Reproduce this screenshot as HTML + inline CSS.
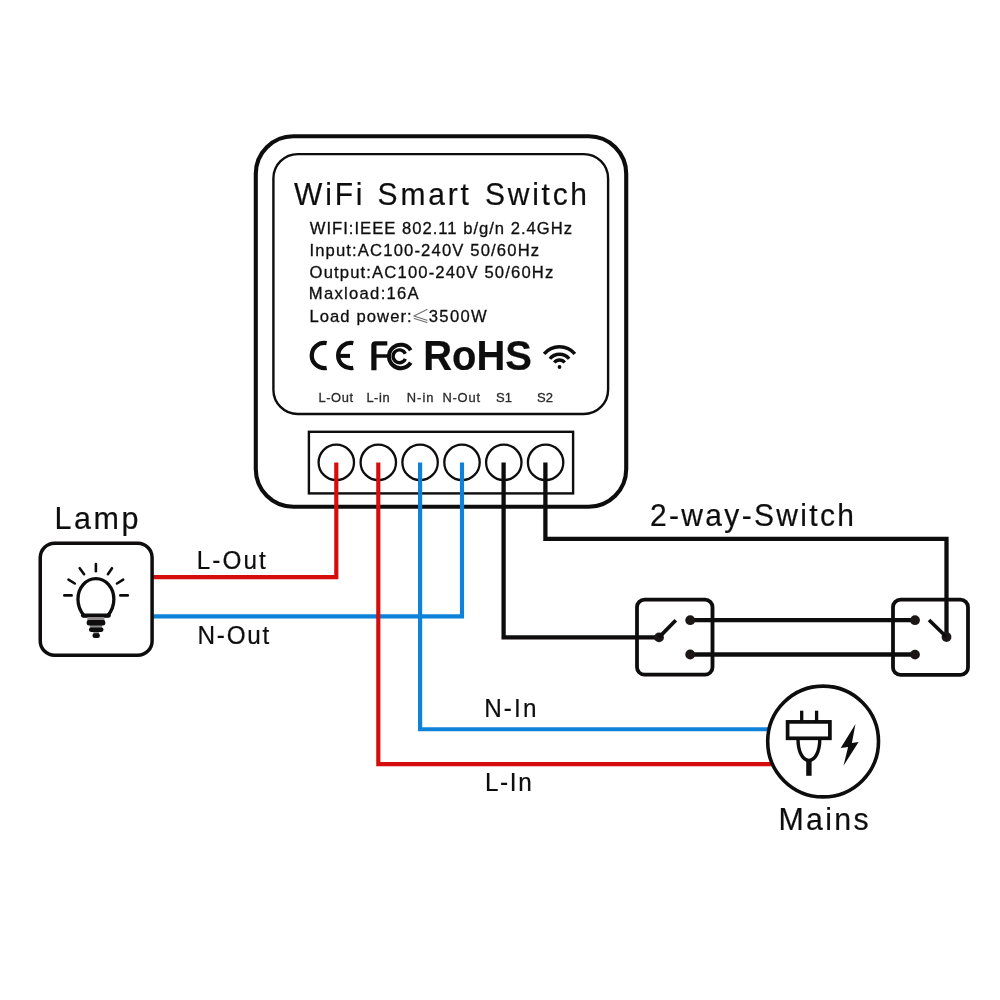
<!DOCTYPE html>
<html>
<head>
<meta charset="utf-8">
<title>WiFi Smart Switch wiring diagram</title>
<style>
html,body{margin:0;padding:0;background:#fff;}
body{width:1000px;height:1000px;overflow:hidden;font-family:"Liberation Sans",sans-serif;}
svg{display:block;}
text{font-family:"Liberation Sans",sans-serif;}
</style>
</head>
<body>
<svg width="1000" height="1000" viewBox="0 0 1000 1000">
<defs><filter id="soft" x="0" y="0" width="1000" height="1000" filterUnits="userSpaceOnUse"><feGaussianBlur stdDeviation="0.45"/></filter></defs>
<rect width="1000" height="1000" fill="#fff"/>
<g filter="url(#soft)">

<!-- module body -->
<rect x="255.8" y="136.2" width="370.4" height="370.6" rx="37.5" ry="37.5" fill="#fff" stroke="#0e0d0d" stroke-width="4.1"/>
<rect x="273.4" y="154.1" width="334.7" height="259.9" rx="24.3" ry="24.3" fill="#fff" stroke="#0e0d0d" stroke-width="2.4"/>

<!-- title -->
<text transform="translate(294.0 205.0) scale(1.0 1.04)" font-size="30" fill="#111" stroke="#111" stroke-width="0.2" textLength="68.47" lengthAdjust="spacing">WiFi</text>
<text transform="translate(377.6 205.0) scale(1.0 1.04)" font-size="30" fill="#111" stroke="#111" stroke-width="0.2" textLength="91.3" lengthAdjust="spacing">Smart</text>
<text transform="translate(485.1 205.0) scale(1.0 1.04)" font-size="30" fill="#111" stroke="#111" stroke-width="0.2" textLength="101.94" lengthAdjust="spacing">Switch</text>
<!-- specs -->
<text transform="translate(309.8 234.0) scale(1.04 1.04)" font-size="16" fill="#111" stroke="#111" stroke-width="0.3" textLength="252.16" lengthAdjust="spacing">WIFI:IEEE 802.11 b/g/n 2.4GHz</text>
<text transform="translate(309.4 255.8) scale(1.04 1.04)" font-size="16" fill="#111" stroke="#111" stroke-width="0.3" textLength="220.87" lengthAdjust="spacing">Input:AC100-240V 50/60Hz</text>
<text transform="translate(309.6 277.6) scale(1.04 1.04)" font-size="16" fill="#111" stroke="#111" stroke-width="0.3" textLength="234.29" lengthAdjust="spacing">Output:AC100-240V 50/60Hz</text>
<text transform="translate(308.8 299.4) scale(1.04 1.04)" font-size="16" fill="#111" stroke="#111" stroke-width="0.3" textLength="105.69" lengthAdjust="spacing">Maxload:16A</text>
<text transform="translate(309.4 321.6) scale(1.04 1.04)" font-size="16" fill="#111" stroke="#111" stroke-width="0.3" textLength="98.4" lengthAdjust="spacing">Load power:</text>
<text transform="translate(428.8 321.6) scale(1.04 1.04)" font-size="16" fill="#111" stroke="#111" stroke-width="0.3" textLength="55.72" lengthAdjust="spacing">3500W</text>

<!-- slanted less-or-equal -->
<g fill="none" stroke="#6e6e6e" stroke-width="1.1" stroke-linecap="round" stroke-linejoin="round">
<path d="M427 309.6 L413.8 316 L427 320.2"/>
<path d="M414.2 318.6 L427 322.6"/>
</g>
<!-- CE -->
<g fill="none" stroke="#0e0d0d" stroke-width="4.3">
<path d="M326.65 343.17 A12.55 12.55 0 1 0 326.65 367.83"/>
<path d="M353.3 343.22 A12.55 12.55 0 1 0 353.3 367.78"/>
<path d="M340 355.9 H350" stroke-width="4"/>
</g>
<!-- FC -->
<path d="M371.3 370.2 V345.6 Q371.3 341.3 375.6 341.3 H387.3 V345.4 H376.5 V354.2 H389.6 V357.8 H376.5 V370.2 Z" fill="#0e0d0d"/>
<g fill="none" stroke="#0e0d0d">
<path d="M410.71 350.22 A11.75 11.75 0 1 0 410.71 362.68" stroke-width="4"/>
<path d="M405.35 353.7 A6.4 6.4 0 1 0 405.35 358.9" stroke-width="3.4"/>
</g>
<text transform="translate(423.3 370.0) scale(0.998 1.04)" font-size="40" font-weight="bold" fill="#111" stroke="#111" stroke-width="0.2">RoHS</text>
<!-- wifi icon -->
<g fill="none" stroke="#0e0d0d" stroke-width="3.4">
<path d="M544.1 353.93 A20.1 20.1 0 0 1 574.9 353.93"/>
<path d="M549.85 358.75 A12.6 12.6 0 0 1 569.15 358.75"/>
<path d="M554.29 362.48 A6.8 6.8 0 0 1 564.71 362.48"/>
</g>
<circle cx="559.5" cy="367" r="1.9" fill="#0e0d0d"/>

<!-- terminal labels -->
<text transform="translate(318.4 402.0) scale(1.04 1.04)" font-size="12.4" fill="#2a2a2a" stroke="#2a2a2a" stroke-width="0.3" textLength="33.27" lengthAdjust="spacing">L-Out</text>
<text transform="translate(366.4 402.0) scale(1.04 1.04)" font-size="12.4" fill="#2a2a2a" stroke="#2a2a2a" stroke-width="0.3" textLength="22.28" lengthAdjust="spacing">L-in</text>
<text transform="translate(406.8 402.0) scale(1.04 1.04)" font-size="12.4" fill="#2a2a2a" stroke="#2a2a2a" stroke-width="0.3" textLength="25.64" lengthAdjust="spacing">N-in</text>
<text transform="translate(442.4 402.0) scale(1.04 1.04)" font-size="12.4" fill="#2a2a2a" stroke="#2a2a2a" stroke-width="0.3" textLength="36.15" lengthAdjust="spacing">N-Out</text>
<text transform="translate(496.1 402.0) scale(1.05 1.04)" font-size="12.4" fill="#2a2a2a" stroke="#2a2a2a" stroke-width="0.3">S1</text>
<text transform="translate(537.0 402.0) scale(1.05 1.04)" font-size="12.4" fill="#2a2a2a" stroke="#2a2a2a" stroke-width="0.3">S2</text>

<!-- terminal block -->
<rect x="308.9" y="431.8" width="264.2" height="61.6" fill="#fff" stroke="#0e0d0d" stroke-width="2.4"/>
<g fill="#fff" stroke="#0e0d0d" stroke-width="2.3">
<circle cx="336.3" cy="462.4" r="17.7"/>
<circle cx="378.3" cy="462.4" r="17.7"/>
<circle cx="420.1" cy="462.4" r="17.7"/>
<circle cx="462" cy="462.4" r="17.7"/>
<circle cx="503.8" cy="462.4" r="17.7"/>
<circle cx="545.6" cy="462.4" r="17.7"/>
</g>


<!-- wires -->
<g fill="none" stroke-width="4.3" stroke-linejoin="miter">
<path d="M462 462.6 V616.3 H152" stroke="#0a82d8" stroke-width="4.15"/>
<path d="M420.1 462.6 V729.2 H776" stroke="#0a82d8" stroke-width="4.15"/>
<path d="M336.3 462.6 V577.1 H152" stroke="#d50b0c" stroke-width="4.15"/>
<path d="M378.3 462.6 V764.1 H778" stroke="#d50b0c" stroke-width="4.15"/>
<path d="M503.6 462.6 V637.4 H659" stroke="#0e0d0d"/>
<path d="M545.4 462.6 V538.9 H946.5 V637" stroke="#0e0d0d"/>
<path d="M690.2 620.2 H915" stroke="#0e0d0d"/>
<path d="M690.2 654.5 H915" stroke="#0e0d0d"/>
</g>


<!-- lamp -->
<text transform="translate(54.6 529.1) scale(1.0 1.04)" font-size="30.5" fill="#111" stroke="#111" stroke-width="0.2" textLength="83.83" lengthAdjust="spacing">Lamp</text>
<rect x="40.25" y="543.25" width="111.85" height="111.95" rx="14.3" ry="14.3" fill="#fff" stroke="#0e0d0d" stroke-width="3.5"/>
<g fill="none" stroke="#0e0d0d" stroke-width="2.6" stroke-linecap="round">
<path d="M95.9 564.1 V571.3"/>
<path d="M79.7 568.2 L84.1 574.2"/>
<path d="M112 568.2 L107.9 574.2"/>
<path d="M68.5 579.7 L74.8 583.5"/>
<path d="M123.2 579.7 L117 583.5"/>
<path d="M64.3 595.4 H71.6"/>
<path d="M120.3 595.4 H127.8"/>
</g>
<path d="M84 615.6 C79.8 610.6 77.95 605.5 77.95 599.2 C77.95 587.8 85.96 578.6 95.9 578.6 C105.84 578.6 113.85 587.8 113.85 599.2 C113.85 605.5 112 610.6 107.8 615.6 Z" fill="#fff" stroke="#0e0d0d" stroke-width="3.3" stroke-linejoin="round"/>
<path d="M83 615.6 H108.8" stroke="#0e0d0d" stroke-width="4.1" stroke-linecap="round"/>
<g fill="#8d8a89">
<rect x="87.4" y="617" width="17" height="4"/>
<rect x="89.8" y="625" width="12.4" height="3"/>
<rect x="93.4" y="631.5" width="5.6" height="2.5"/>
</g>
<g fill="#0e0d0d">
<rect x="86.7" y="619.9" width="18.6" height="5.5" rx="2.2"/>
<rect x="88.9" y="627.5" width="14.6" height="4.4" rx="2.1"/>
<rect x="92.5" y="633.3" width="7.4" height="4.6" rx="2.2"/>
</g>
<text transform="translate(196.7 569.0) scale(1.0 1.04)" font-size="24.3" fill="#111" stroke="#111" stroke-width="0.2" textLength="69.15" lengthAdjust="spacing">L-Out</text>
<text transform="translate(197.6 643.6) scale(1.0 1.04)" font-size="24.3" fill="#111" stroke="#111" stroke-width="0.2" textLength="71.75" lengthAdjust="spacing">N-Out</text>


<!-- switches -->
<text transform="translate(650.0 525.5) scale(1.0 1.04)" font-size="30" fill="#111" stroke="#111" stroke-width="0.2" textLength="204.04" lengthAdjust="spacing">2-way-Switch</text>
<rect x="637" y="599.7" width="75.5" height="75" rx="7.5" ry="7.5" fill="none" stroke="#0e0d0d" stroke-width="3.8"/>
<rect x="893" y="599.7" width="75" height="75.2" rx="7.5" ry="7.5" fill="none" stroke="#0e0d0d" stroke-width="3.8"/>
<g fill="#1c1918">
<circle cx="659" cy="637.4" r="4.9"/>
<circle cx="690.2" cy="620.2" r="4.9"/>
<circle cx="690.2" cy="654.5" r="4.9"/>
<circle cx="946.5" cy="637" r="4.9"/>
<circle cx="915" cy="620.2" r="4.9"/>
<circle cx="915" cy="654.6" r="4.9"/>
</g>
<g stroke="#0e0d0d" stroke-width="3.7">
<path d="M659 637.4 L675.8 620.2"/>
<path d="M946.5 637 L929 620"/>
</g>


<!-- mains -->
<circle cx="823.1" cy="741.5" r="55.4" fill="#fff" stroke="#0e0d0d" stroke-width="3.6"/>
<g fill="none" stroke="#0e0d0d">
<path d="M801.7 710.7 V721" stroke-width="3.3"/>
<path d="M816.6 710.7 V721" stroke-width="3.3"/>
<rect x="787.6" y="721.9" width="42.3" height="16.4" stroke-width="3.7"/>
<path d="M798 739 C798 751.5 802.6 760.4 808.9 760.4 C815.2 760.4 819.8 751.5 819.8 739" stroke-width="3.4"/>
<path d="M808.9 759.5 V775.8" stroke-width="5.4"/>
</g>
<path d="M855.5 724 L840.7 748.1 L848.1 747.1 L843.5 765.7 L858.6 741.9 L851.9 743 Z" fill="#0e0d0d"/>
<text transform="translate(484.2 717.0) scale(1.0 1.04)" font-size="24.3" fill="#111" stroke="#111" stroke-width="0.2" textLength="52.23" lengthAdjust="spacing">N-In</text>
<text transform="translate(485.0 791.3) scale(1.0 1.04)" font-size="24.3" fill="#111" stroke="#111" stroke-width="0.2" textLength="46.67" lengthAdjust="spacing">L-In</text>
<text transform="translate(778.5 830.0) scale(1.0 1.04)" font-size="30.3" fill="#111" stroke="#111" stroke-width="0.2" textLength="90.15" lengthAdjust="spacing">Mains</text>

</g>
</svg>
</body>
</html>
